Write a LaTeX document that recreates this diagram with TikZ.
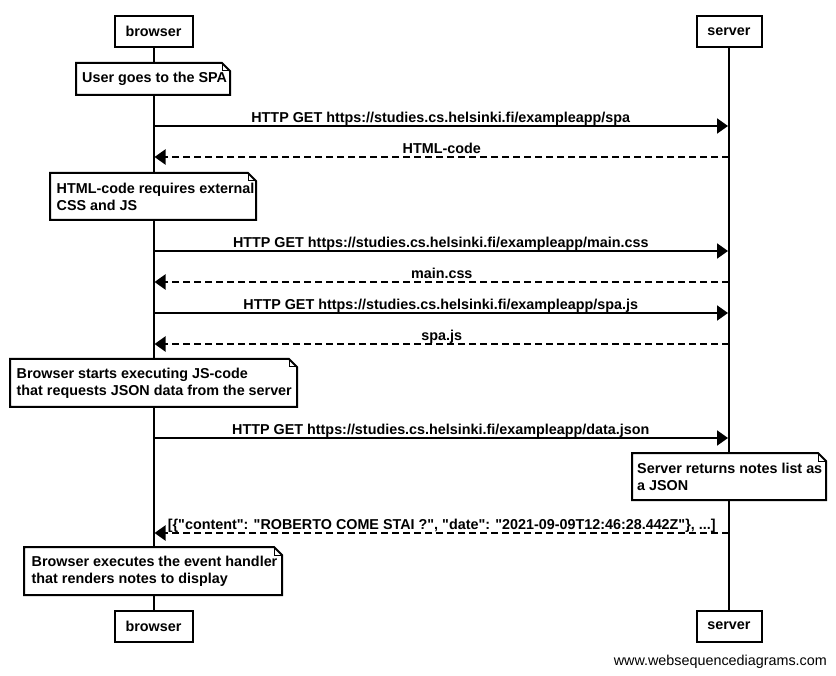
\documentclass[tikz,border=0pt]{standalone}
\usepackage{fontspec}
\setmainfont{Liberation Sans}[Ligatures=TeXOff]
\usetikzlibrary{arrows.meta}
\newcommand{\dogear}[1]{%
  \draw[noteline] (#1.north west) -- ([xshift=-8pt]#1.north east) -- ([yshift=-8pt]#1.north east) -- (#1.south east) -- (#1.south west) -- cycle;
  \draw[line width=1pt] ([xshift=-8pt]#1.north east) -- ([xshift=-8pt,yshift=-8pt]#1.north east) -- ([yshift=-8pt]#1.north east);
}
\begin{document}
\begin{tikzpicture}[x=1pt,y=-1pt,
  every node/.style={font=\fontsize{14.35}{17}\selectfont\bfseries},
  actor/.style={draw, line width=2pt, fill=white, minimum height=31pt, inner sep=0pt, outer sep=0pt},
  notebg/.style={fill=white, inner sep=0pt, outer sep=0pt, anchor=north west},
  noteline/.style={line width=2pt, line join=miter},
  notetext/.style={anchor=west, align=left, inner sep=0pt},
  lifeline/.style={line width=2pt},
  msg/.style={line width=2pt, -{Triangle[length=11pt,width=15pt]}},
  reply/.style={msg, dash pattern=on 7pt off 4pt},
  lbl/.style={anchor=base, inner sep=0pt, yshift=3.5pt}
]
\useasboundingbox (0,0) rectangle (836,676);
\fill[white] (0,0) rectangle (836,676);

% participants
\node[actor, minimum width=78pt] (b) at (153.5,31.5) {browser};
\node[actor, minimum width=65pt] (s) at (729,31.5) {server};
\node[actor, minimum width=78pt] (b2) at (153.5,626) {browser};
\node[actor, minimum width=65pt] (s2) at (729,626) {server};

\draw[lifeline] (b.south) -- (b2.north);
\draw[lifeline] (s.south) -- (s2.north);

% notes
\node[notebg, minimum width=154pt, minimum height=32pt] (n1) at (76,63) {};
\dogear{n1}
\node[notetext] (t1) at ([xshift=6pt]n1.west) {User goes to the SPA};

\node[notebg, minimum width=206pt, minimum height=47pt] (n2) at (50,173) {};
\dogear{n2}
\node[notetext] (t2) at ([xshift=6.5pt]n2.west) {HTML-code requires external\\CSS and JS};

\node[notebg, minimum width=287pt, minimum height=48pt] (n3) at (10,359) {};
\dogear{n3}
\node[notetext] (t3) at ([xshift=6.5pt]n3.west) {Browser starts executing JS-code\\that requests JSON data from the server};

\node[notebg, minimum width=194pt, minimum height=47pt] (n4) at (632,453) {};
\dogear{n4}
\node[notetext] (t4) at ([xshift=5pt]n4.west) {Server returns notes list as\\a JSON};

\node[notebg, minimum width=258pt, minimum height=48pt] (n5) at (24,547) {};
\dogear{n5}
\node[notetext] (t5) at ([xshift=7.5pt]n5.west) {Browser executes the event handler\\that renders notes to display};

% message end points
\coordinate (m1b) at (153.5,126); \coordinate (m1s) at (728,126);
\coordinate (m2b) at (154.5,157); \coordinate (m2s) at (729,157);
\coordinate (m3b) at (153.5,251); \coordinate (m3s) at (728,251);
\coordinate (m4b) at (154.5,282); \coordinate (m4s) at (729,282);
\coordinate (m5b) at (153.5,313); \coordinate (m5s) at (728,313);
\coordinate (m6b) at (154.5,344); \coordinate (m6s) at (729,344);
\coordinate (m7b) at (153.5,438); \coordinate (m7s) at (728,438);
\coordinate (m8b) at (154.5,533); \coordinate (m8s) at (729,533);

\draw[msg] (m1b) -- (m1s) node[lbl, midway] (l1) {HTTP GET https://studies.cs.helsinki.fi/exampleapp/spa};
\draw[reply] (m2s) -- (m2b) node[lbl, midway] (l2) {HTML-code};
\draw[msg] (m3b) -- (m3s) node[lbl, midway] (l3) {HTTP GET https://studies.cs.helsinki.fi/exampleapp/main.css};
\draw[reply] (m4s) -- (m4b) node[lbl, midway] (l4) {main.css};
\draw[msg] (m5b) -- (m5s) node[lbl, midway] (l5) {HTTP GET https://studies.cs.helsinki.fi/exampleapp/spa.js};
\draw[reply] (m6s) -- (m6b) node[lbl, midway] (l6) {spa.js};
\draw[msg] (m7b) -- (m7s) node[lbl, midway] (l7) {HTTP GET https://studies.cs.helsinki.fi/exampleapp/data.json};
\draw[reply] (m8s) -- (m8b) node[lbl, midway] (l8) {[\{"content": "ROBERTO COME STAI ?", "date": "2021-09-09T12:46:28.442Z"\}, ...]};

\node[anchor=base east, inner sep=0pt, font=\fontsize{14.35}{17}\selectfont] (wm) at (827,665) {www.websequencediagrams.com};
\end{tikzpicture}
\end{document}
